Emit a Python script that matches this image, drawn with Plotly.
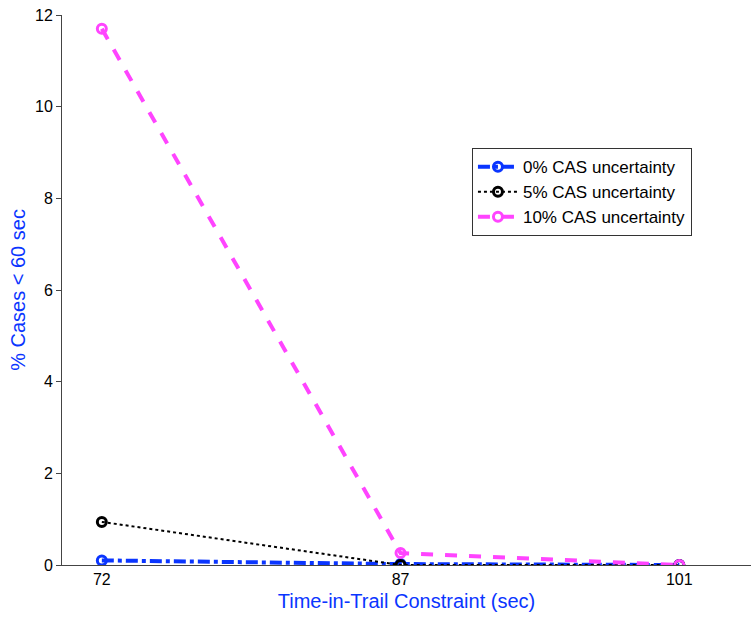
import plotly.graph_objects as go

# Time-in-trail constraints (sec)
constraints = [72, 87, 101]

# Percentage of cases below 60 sec, per CAS uncertainty level
cas0 = [0.10, 0.02, 0.0]
cas5 = [0.94, 0.0, 0.0]
cas10 = [11.7, 0.26, 0.0]

series_names = ["0% CAS uncertainty", "5% CAS uncertainty", "10% CAS uncertainty"]
x_ticks = [72, 87, 101]
y_ticks = [0, 2, 4, 6, 8, 10, 12]

blue = "#0a35ff"
magenta = "#ff44ff"
black = "#000000"

fig = go.Figure()
fig.add_trace(go.Scatter(
    x=constraints, y=cas0, name=series_names[0], mode="lines+markers",
    line=dict(color=blue, width=4, dash="dashdot"),
    marker=dict(symbol="circle-open", size=9, color=blue, line=dict(width=3)),
))
fig.add_trace(go.Scatter(
    x=constraints, y=cas5, name=series_names[1], mode="lines+markers",
    line=dict(color=black, width=2, dash="dot"),
    marker=dict(symbol="circle-open", size=9, color=black, line=dict(width=3)),
))
fig.add_trace(go.Scatter(
    x=constraints, y=cas10, name=series_names[2], mode="lines+markers",
    line=dict(color=magenta, width=4, dash="dash"),
    marker=dict(symbol="circle-open", size=9, color=magenta, line=dict(width=3)),
))

axis_font = dict(family="Liberation Sans, Arial, sans-serif", size=16, color="black")

fig.update_layout(
    width=751, height=617,
    margin=dict(l=62, r=0, t=15, b=52),
    paper_bgcolor="white", plot_bgcolor="white",
    font=dict(family="Liberation Sans, Arial, sans-serif"),
    showlegend=True,
    legend=dict(
        x=0.595, y=0.758, xanchor="left", yanchor="top",
        bgcolor="white", bordercolor="#333333", borderwidth=1,
        font=dict(size=17, color="black"),
        itemwidth=40, tracegroupgap=0,
    ),
    xaxis=dict(
        range=[70, 104.6], tickvals=x_ticks, ticktext=[str(v) for v in x_ticks],
        showgrid=False, zeroline=False, showline=True, linecolor="#444444", linewidth=1,
        ticks="", tickfont=axis_font,
        title=dict(text="Time-in-Trail Constraint (sec)", standoff=6,
                   font=dict(size=20, color=blue)),
    ),
    yaxis=dict(
        range=[0, 12], tickvals=y_ticks,
        showgrid=False, zeroline=False, showline=True, linecolor="#444444", linewidth=1,
        ticks="outside", ticklen=5, tickcolor="#444444", tickfont=axis_font,
        title=dict(text="% Cases < 60 sec", standoff=4,
                   font=dict(size=20, color=blue)),
    ),
)

fig.write_html("out.html")
